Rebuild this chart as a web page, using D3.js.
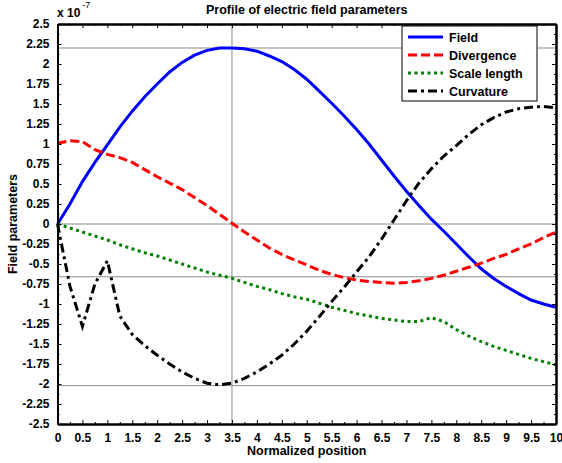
<!DOCTYPE html>
<html>
<head>
<meta charset="utf-8">
<script src="https://cdn.jsdelivr.net/npm/d3@7"></script>
<style>
  body { margin: 0; background: #fff; }
  text { font-family: "Liberation Sans", Arial, sans-serif; font-weight: bold; }
</style>
</head>
<body>
<div id="chart"></div>
<script>
// normalized position samples
const positions = [0, 0.25, 0.5, 0.75, 1, 1.25, 1.5, 1.75, 2, 2.25, 2.5, 2.75, 3, 3.25, 3.5, 3.75,
  4, 4.25, 4.5, 4.75, 5, 5.25, 5.5, 5.75, 6, 6.25, 6.5, 6.75, 7, 7.25, 7.5, 7.75,
  8, 8.25, 8.5, 8.75, 9, 9.25, 9.5, 9.75, 10];

// values in units of 1e-7
const field = [0, 0.25, 0.53, 0.77, 0.99, 1.21, 1.41, 1.59, 1.75, 1.90, 2.02, 2.11, 2.17, 2.20, 2.20, 2.19,
  2.16, 2.10, 2.03, 1.93, 1.81, 1.66, 1.51, 1.35, 1.18, 1.00, 0.80, 0.60, 0.41, 0.23, 0.06, -0.09,
  -0.25, -0.41, -0.56, -0.68, -0.78, -0.87, -0.95, -1.00, -1.04];
const divergence = [1.01, 1.04, 1.03, 0.93, 0.87, 0.83, 0.77, 0.68, 0.59, 0.51, 0.43, 0.33, 0.23, 0.12, 0.01, -0.10,
  -0.20, -0.30, -0.38, -0.45, -0.51, -0.58, -0.63, -0.67, -0.70, -0.72, -0.73, -0.74, -0.73, -0.71, -0.68, -0.64,
  -0.59, -0.54, -0.49, -0.43, -0.38, -0.31, -0.25, -0.17, -0.10];
const scaleLength = [0, -0.05, -0.10, -0.15, -0.20, -0.26, -0.31, -0.36, -0.40, -0.45, -0.50, -0.55, -0.60, -0.64, -0.68, -0.73,
  -0.78, -0.82, -0.87, -0.91, -0.94, -0.99, -1.04, -1.08, -1.12, -1.15, -1.18, -1.20, -1.22, -1.22, -1.17, -1.22,
  -1.32, -1.40, -1.47, -1.53, -1.58, -1.63, -1.68, -1.72, -1.76];
const curvature = [0, -0.78, -1.28, -0.75, -0.46, -1.15, -1.38, -1.52, -1.64, -1.75, -1.85, -1.93, -1.99, -2.01, -1.99, -1.93,
  -1.85, -1.75, -1.64, -1.50, -1.34, -1.16, -0.97, -0.79, -0.60, -0.41, -0.19, 0.05, 0.29, 0.51, 0.69, 0.85,
  0.98, 1.12, 1.24, 1.33, 1.40, 1.44, 1.46, 1.47, 1.45];

const seriesNames = ["Field", "Divergence", "Scale length", "Curvature"];
const seriesValues = [field, divergence, scaleLength, curvature];

// reference lines
const hLines = [2.2, 0, -0.66, -2.02];
const vLines = [3.5];

const xTicks = d3.range(0, 10.01, 0.5);
const yTicks = d3.range(-2.5, 2.51, 0.25);

const width = 562, height = 463;
const styles = [
  {color: "#0000ff", dash: null},
  {color: "#ff0000", dash: "9,4"},
  {color: "#008000", dash: "3,3.5"},
  {color: "#000000", dash: "9,4,3,4"}
];

const svg = d3.select("#chart").append("svg")
  .attr("width", width)
  .attr("height", height);

const x = d3.scaleLinear().domain([0, 10]).range([57.5, 556]);
const y = d3.scaleLinear().domain([-2.5, 2.5]).range([424, 24]);

// grid lines
svg.append("g").selectAll("line").data(hLines).join("line")
  .attr("x1", x(0)).attr("x2", x(10))
  .attr("y1", d => y(d)).attr("y2", d => y(d))
  .attr("stroke", "#8c8c8c").attr("stroke-width", 1);
svg.append("g").selectAll("line").data(vLines).join("line")
  .attr("x1", d => x(d)).attr("x2", d => x(d))
  .attr("y1", y(-2.5)).attr("y2", y(2.5))
  .attr("stroke", "#8c8c8c").attr("stroke-width", 1);

// curves
const line = d3.line()
  .x((d, i) => x(positions[i]))
  .y(d => y(d));

seriesValues.forEach(function(vals, k) {
  svg.append("path")
    .datum(vals)
    .attr("fill", "none")
    .attr("stroke", styles[k].color)
    .attr("stroke-width", 3)
    .attr("stroke-dasharray", styles[k].dash)
    .attr("d", line);
});

// axes (inward ticks)
const fmt = d => String(+d.toFixed(2));
const xMinor = d3.range(0.25, 10, 0.5);
const yMinor = d3.range(-2.375, 2.5, 0.25);

function addAxis(axis, tx, ty, labels) {
  const g = svg.append("g")
    .attr("transform", `translate(${tx},${ty})`)
    .call(axis);
  g.select(".domain").attr("stroke", "#000").attr("stroke-width", 2);
  g.selectAll(".tick line").attr("stroke", "#000");
  g.selectAll(".tick text")
    .attr("font-size", 12)
    .attr("font-family", "Liberation Sans, Arial, sans-serif")
    .attr("font-weight", "bold")
    .attr("fill", "#000");
  if (!labels) g.selectAll(".tick text").remove();
  return g;
}

addAxis(d3.axisBottom(x).tickValues(xTicks).tickFormat(fmt).tickSizeInner(-4).tickSizeOuter(0).tickPadding(9), 0, y(-2.5), true);
addAxis(d3.axisBottom(x).tickValues(xMinor).tickSizeInner(-2).tickSizeOuter(0), 0, y(-2.5), false);
addAxis(d3.axisTop(x).tickValues(xTicks).tickSizeInner(-4).tickSizeOuter(0), 0, y(2.5), false);
addAxis(d3.axisTop(x).tickValues(xMinor).tickSizeInner(-2).tickSizeOuter(0), 0, y(2.5), false);
addAxis(d3.axisLeft(y).tickValues(yTicks).tickFormat(fmt).tickSizeInner(-4).tickSizeOuter(0).tickPadding(8), x(0), 0, true);
addAxis(d3.axisLeft(y).tickValues(yMinor).tickSizeInner(-2).tickSizeOuter(0), x(0), 0, false);
addAxis(d3.axisRight(y).tickValues(yTicks).tickSizeInner(-4).tickSizeOuter(0), x(10), 0, false);
addAxis(d3.axisRight(y).tickValues(yMinor).tickSizeInner(-2).tickSizeOuter(0), x(10), 0, false);

// exponent
const expo = svg.append("text").attr("x", 57).attr("y", 17).attr("font-size", 12);
expo.append("tspan").text("x 10");
expo.append("tspan").attr("dx", 2).attr("dy", -9).attr("font-size", 9).attr("font-weight", "normal").text("-7");

// title and axis labels
svg.append("text")
  .attr("x", (x(0) + x(10)) / 2).attr("y", 14)
  .attr("text-anchor", "middle").attr("font-size", 12.5)
  .text("Profile of electric field parameters");
svg.append("text")
  .attr("x", (x(0) + x(10)) / 2).attr("y", 455)
  .attr("text-anchor", "middle").attr("font-size", 12.5)
  .text("Normalized position");
svg.append("text")
  .attr("transform", `translate(17, ${y(0)}) rotate(-90)`)
  .attr("text-anchor", "middle").attr("font-size", 12.5)
  .text("Field parameters");

// legend
const legend = svg.append("g").attr("transform", "translate(402, 26)");
legend.append("rect")
  .attr("width", 135).attr("height", 75)
  .attr("fill", "#fff").attr("stroke", "#000").attr("stroke-width", 1);
seriesNames.forEach(function(name, k) {
  const ly = 11 + k * 18;
  legend.append("line")
    .attr("x1", 6).attr("x2", 41).attr("y1", ly).attr("y2", ly)
    .attr("stroke", styles[k].color).attr("stroke-width", 3)
    .attr("stroke-dasharray", styles[k].dash);
  legend.append("text")
    .attr("x", 47).attr("y", ly + 4.5)
    .attr("font-size", 12.5)
    .text(name);
});
</script>
</body>
</html>
